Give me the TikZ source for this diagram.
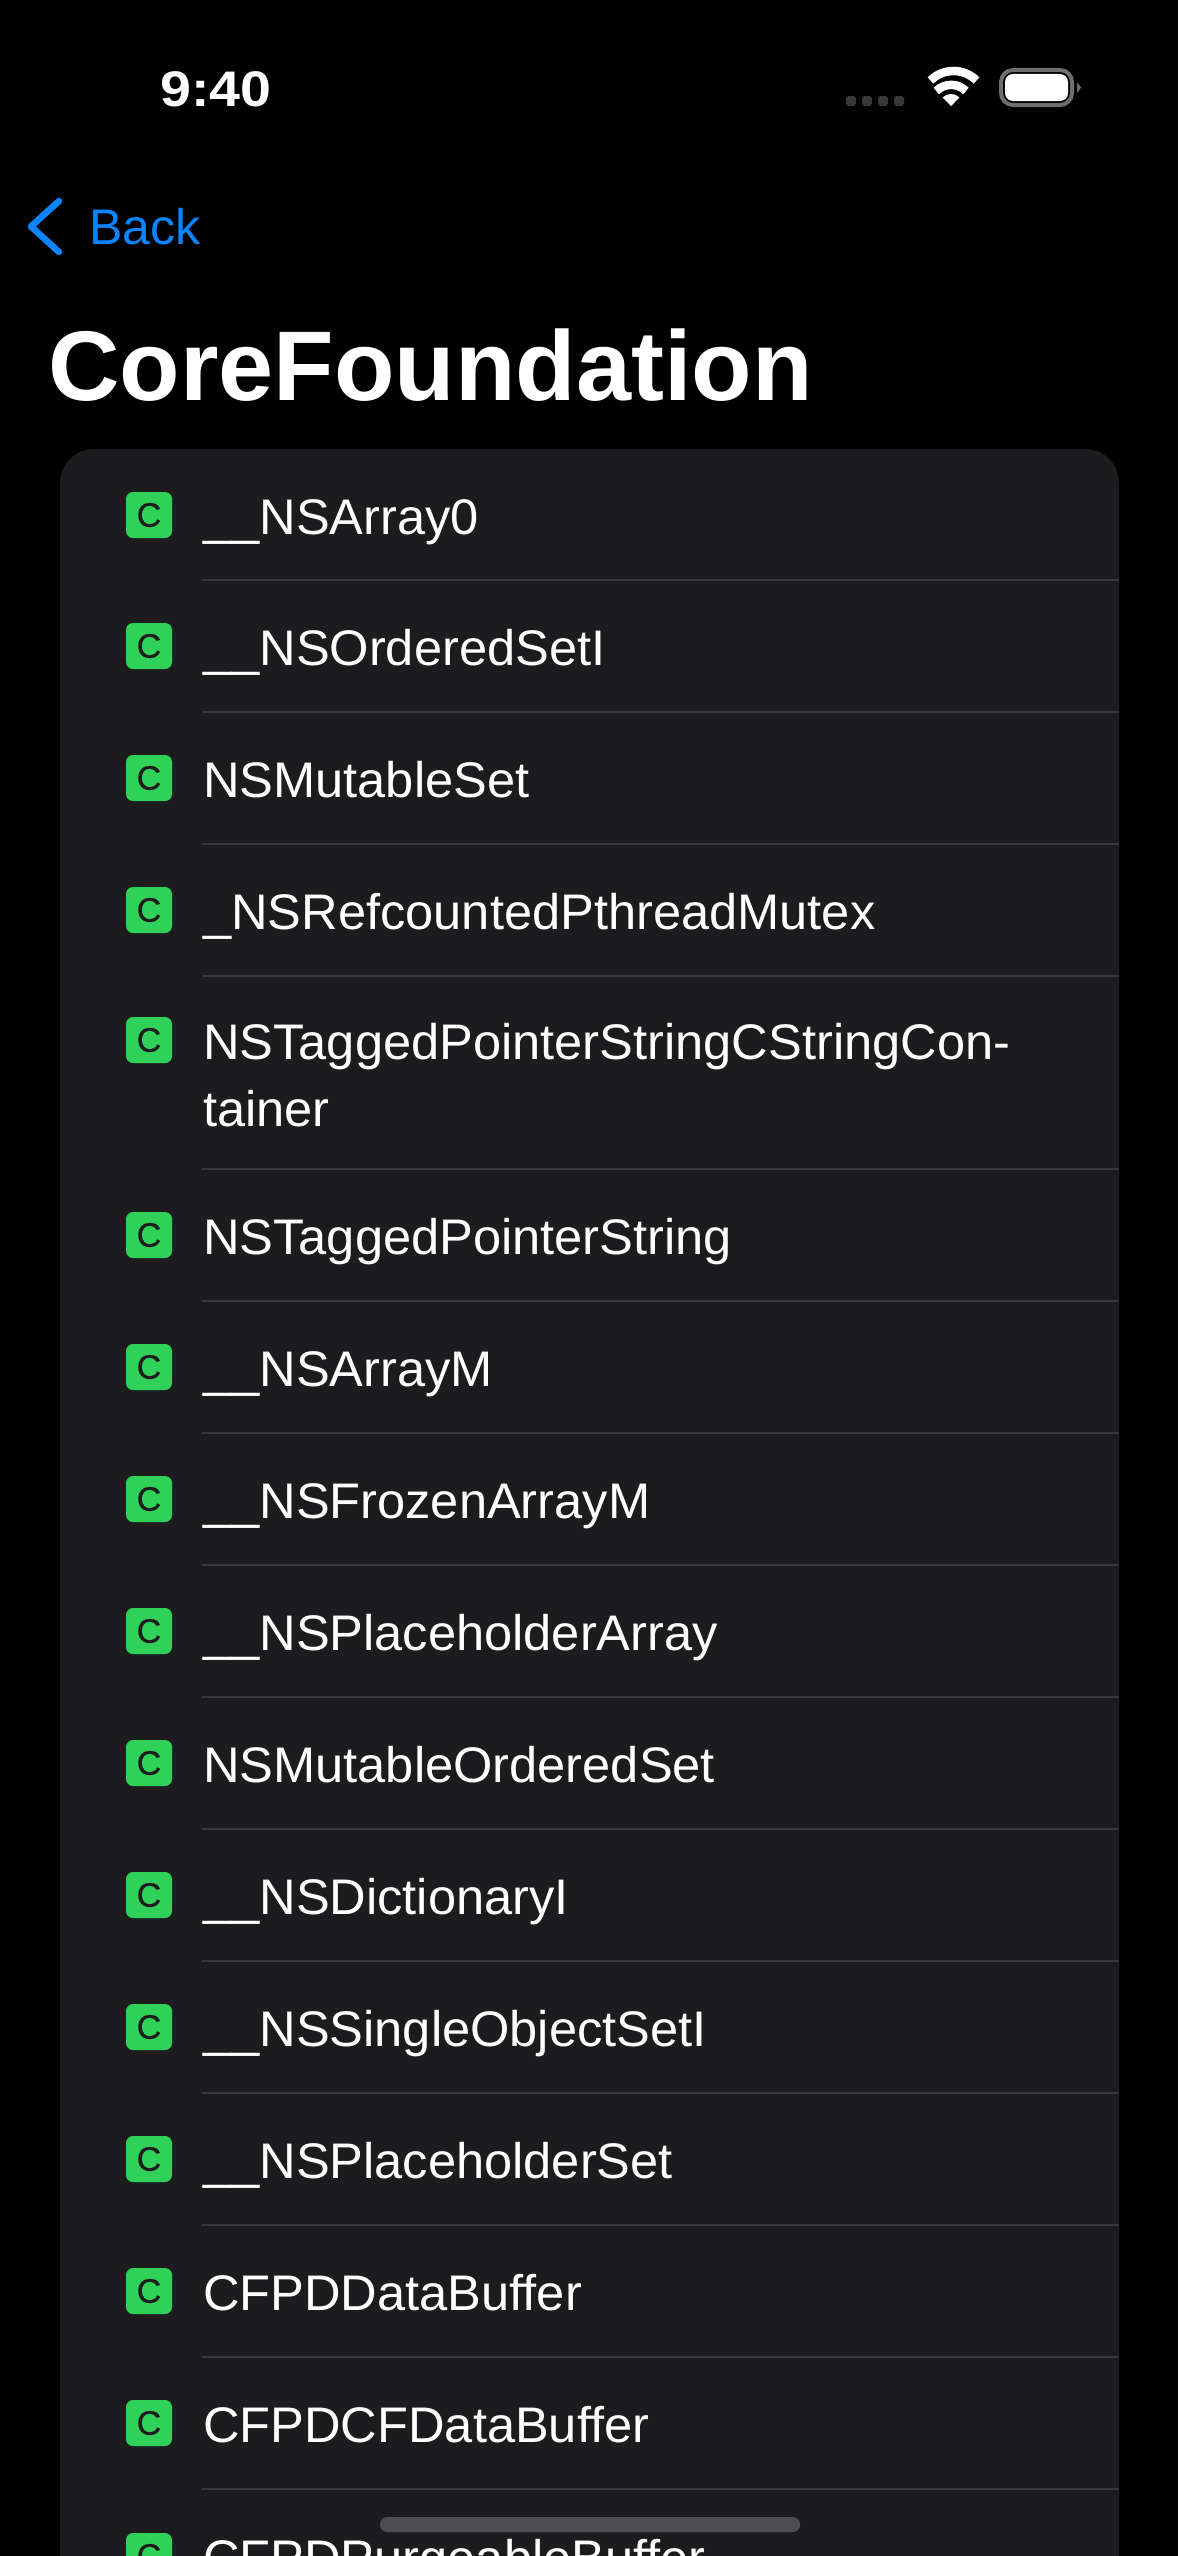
\documentclass[tikz,border=0pt]{standalone}
\usepackage{fontspec}
\setmainfont{Liberation Sans}
\definecolor{cardgray}{HTML}{1C1C1E}
\definecolor{linegray}{HTML}{38383A}
\definecolor{badgegreen}{HTML}{30D158}
\definecolor{backblue}{HTML}{0A84FF}
\definecolor{dotgray}{HTML}{3A3A3C}
\definecolor{battgray}{HTML}{6E6E70}
\definecolor{homegray}{HTML}{4D4D4F}
\tikzset{
	badge/.style={fill=badgegreen,text=cardgray,rounded corners=7pt,minimum size=46pt,inner sep=0pt,font=\fontsize{34}{34}\selectfont\addfontfeatures{FakeBold=0.6}},
	rowtext/.style={anchor=base west,inner sep=0pt,text=white,font=\fontsize{50}{60}\selectfont\addfontfeatures{FakeStretch=1.012}},
	rowline/.style={draw=linegray,line width=2pt},
	sigdot/.style={fill=dotgray,rounded corners=3pt,minimum size=10pt,inner sep=0pt},
	wifiarc/.style={draw=white,line width=8.5pt}
}

\begin{document}
\begin{tikzpicture}[x=1pt,y=-1pt]
	\useasboundingbox (0,0) rectangle (1178,2556);
	\fill[black] (0,0) rectangle (1178,2556);

	\node[anchor=base west,inner sep=0pt,text=white,font=\fontsize{50}{60}\selectfont\bfseries\addfontfeatures{FakeStretch=1.11}] (clock) at (160,106) {9:40};
	\node[sigdot] (dotA) at (851,101) {};
	\node[sigdot] (dotB) at (867,101) {};
	\node[sigdot] (dotC) at (883,101) {};
	\node[sigdot] (dotD) at (899,101) {};
	\draw[wifiarc] (976.5,80.5) arc[start angle=45,end angle=135,radius=32.5pt];
	\draw[wifiarc] (966,91) arc[start angle=45,end angle=135,radius=21pt];
	\fill[white] (951,106)--(942.5,97.5) arc[start angle=135,end angle=45,radius=12pt]--cycle;
	\draw[battgray,line width=4pt,rounded corners=12pt] (1001,70) rectangle (1072,105);
	\fill[white,rounded corners=8pt] (1005,74) rectangle (1068,101);
	\fill[battgray] (1077,82)--(1081,87.5)--(1077,93)--cycle;

	\draw[backblue,line width=6.5pt,line cap=round,line join=round] (59,201)--(31,226.5)--(59,252);
	\node[anchor=base west,inner sep=0pt,text=backblue,font=\fontsize{50}{60}\selectfont] (back) at (89,244) {Back};
	\node[anchor=base west,inner sep=0pt,text=white,font=\fontsize{99}{120}\selectfont\bfseries] (title) at (48,400) {CoreFoundation};

	\fill[cardgray,rounded corners=34pt] (60,449) rectangle (1119,2700);

	\node[badge] (badgeA) at (149,515) {C};
	\node[rowtext] (textA) at (203,534) {\_\_NSArray0};
	\draw[rowline] (202,580)--(1119,580);
	\node[badge] (badgeB) at (149,646) {C};
	\node[rowtext] (textB) at (203,665) {\_\_NSOrderedSetI};
	\draw[rowline] (202,712)--(1119,712);
	\node[badge] (badgeC) at (149,778) {C};
	\node[rowtext] (textC) at (203,797) {NSMutableSet};
	\draw[rowline] (202,844)--(1119,844);
	\node[badge] (badgeD) at (149,910) {C};
	\node[rowtext] (textD) at (203,929) {\_NSRefcountedPthreadMutex};
	\draw[rowline] (202,976)--(1119,976);
	\node[badge] (badgeE) at (149,1040) {C};
	\node[rowtext] (textE) at (203,1059) {NSTaggedPointerStringCStringCon-};
	\node[rowtext] (textEE) at (203,1126) {tainer};
	\draw[rowline] (202,1169)--(1119,1169);
	\node[badge] (badgeF) at (149,1235) {C};
	\node[rowtext] (textF) at (203,1254) {NSTaggedPointerString};
	\draw[rowline] (202,1301)--(1119,1301);
	\node[badge] (badgeG) at (149,1367) {C};
	\node[rowtext] (textG) at (203,1386) {\_\_NSArrayM};
	\draw[rowline] (202,1433)--(1119,1433);
	\node[badge] (badgeH) at (149,1499) {C};
	\node[rowtext] (textH) at (203,1518) {\_\_NSFrozenArrayM};
	\draw[rowline] (202,1565)--(1119,1565);
	\node[badge] (badgeI) at (149,1631) {C};
	\node[rowtext] (textI) at (203,1650) {\_\_NSPlaceholderArray};
	\draw[rowline] (202,1697)--(1119,1697);
	\node[badge] (badgeJ) at (149,1763) {C};
	\node[rowtext] (textJ) at (203,1782) {NSMutableOrderedSet};
	\draw[rowline] (202,1829)--(1119,1829);
	\node[badge] (badgeK) at (149,1895) {C};
	\node[rowtext] (textK) at (203,1914) {\_\_NSDictionaryI};
	\draw[rowline] (202,1961)--(1119,1961);
	\node[badge] (badgeL) at (149,2027) {C};
	\node[rowtext] (textL) at (203,2046) {\_\_NSSingleObjectSetI};
	\draw[rowline] (202,2093)--(1119,2093);
	\node[badge] (badgeM) at (149,2159) {C};
	\node[rowtext] (textM) at (203,2178) {\_\_NSPlaceholderSet};
	\draw[rowline] (202,2225)--(1119,2225);
	\node[badge] (badgeN) at (149,2291) {C};
	\node[rowtext] (textN) at (203,2310) {CFPDDataBuffer};
	\draw[rowline] (202,2357)--(1119,2357);
	\node[badge] (badgeO) at (149,2423) {C};
	\node[rowtext] (textO) at (203,2442) {CFPDCFDataBuffer};
	\draw[rowline] (202,2489)--(1119,2489);
	\node[badge] (badgeP) at (149,2556) {C};
	\node[rowtext] (textP) at (203,2575) {CFPDPurgeableBuffer};

	\fill[homegray,rounded corners=7pt] (380,2517) rectangle (800,2532);
\end{tikzpicture}
\end{document}
